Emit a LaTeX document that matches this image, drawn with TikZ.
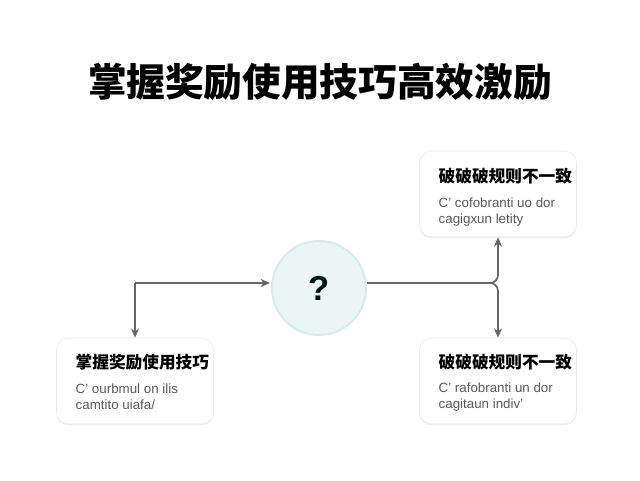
\documentclass[tikz,border=0pt]{standalone}
\usepackage{fontspec}
\setmainfont{Liberation Sans}
\newfontfamily\cjk{Noto Sans CJK SC}
\usetikzlibrary{arrows.meta,shadows}
\begin{document}
\begin{tikzpicture}[x=0.75pt,y=-0.75pt,
 card/.style={draw=black!8,fill=white,rounded corners=9pt,minimum width=157*0.75pt,minimum height=86*0.75pt,drop shadow={opacity=0.12,shadow xshift=0pt,shadow yshift=-1pt}},
 ttl/.style={font=\cjk\bfseries\fontsize{12.5}{14}\selectfont,anchor=west},
 sub/.style={font=\fontsize{10}{12}\selectfont,text=black!65,anchor=west,align=left},
 conn/.style={draw=black!60,line width=1.3pt,rounded corners=6pt,-{Stealth[length=7pt,width=6pt]}}]
\useasboundingbox (0,0) rectangle (640,480);
\fill[white] (0,0) rectangle (640,480);
\node[font=\cjk\bfseries\fontsize{29}{34}\selectfont] (title) at (320,82) {掌握奖励使用技巧高效激励};
\node[circle,fill=teal!8,draw=teal!15,line width=1.5pt,minimum size=94*0.75pt,font=\bfseries\fontsize{26}{30}\selectfont,text=black!85!teal] (q) at (319,288) {?};
\node[card] (tr) at (498,194) {};
\node[card] (bl) at (135,381) {};
\node[card] (br) at (498,381) {};
\node[ttl] (trt) at (434,176) {破破破规则不一致};
\node[sub] (trs) at (434,212) {C' cofobranti uo dor\\cagigxun letity};
\node[ttl] (blt) at (71,362) {掌握奖励使用技巧};
\node[sub] (bls) at (71,397) {C' ourbmul on ilis\\camtito uiafa/};
\node[ttl] (brt) at (434,362) {破破破规则不一致};
\node[sub] (brs) at (434,397) {C' rafobranti un dor\\cagitaun indiv'};
\coordinate (lc) at (135,283);
\coordinate (rc) at (498,283);
\coordinate (qw) at (270,283);
\coordinate (qe) at (367,283);
\draw[conn] (lc) -- (qw);
\draw[conn] (lc) -- (bl.north);
\draw[conn] (qe) -- (rc) -- (tr.south);
\draw[conn] (qe) -- (rc) -- (br.north);
\end{tikzpicture}
\end{document}
